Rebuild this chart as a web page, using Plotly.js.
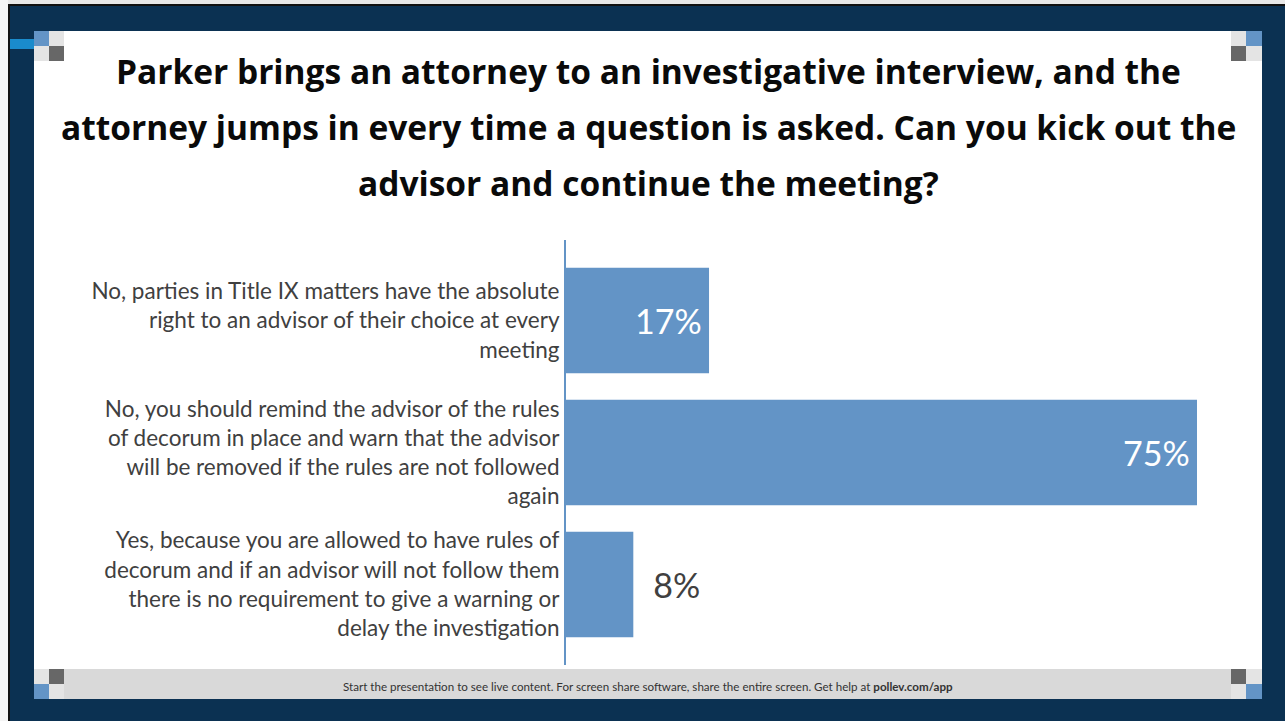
<!DOCTYPE html>
<html>
<head>
<meta charset="utf-8">
<script src="https://cdn.plot.ly/plotly-3.0.1.min.js"></script>
<style>
html,body{margin:0;padding:0;background:#0b3152;overflow:hidden;}
#chart{width:1285px;height:721px;}
</style>
</head>
<body>
<div id="chart"></div>
<script>
// ---- data ----
var categories = [
  "No, parties in Title IX matters have the absolute<br>right to an advisor of their choice at every<br>meeting",
  "No, you should remind the advisor of the rules<br>of decorum in place and warn that the advisor<br>will be removed if the rules are not followed<br>again",
  "Yes, because you are allowed to have rules of<br>decorum and if an advisor will not follow them<br>there is no requirement to give a warning or<br>delay the investigation"
];
var values = [17, 75, 8];
var valueLabels = ["17%", "75%", "8%"];
var titleLines = [
  "Parker brings an attorney to an investigative interview, and the",
  "attorney jumps in every time a question is asked. Can you kick out the",
  "advisor and continue the meeting?"
];
var footerText = "Start the presentation to see live content. For screen share software, share the entire screen. Get help at <b>pollev.com/app</b>";

// ---- geometry ----
var W = 1285, H = 721;
var M = {l: 566, r: 88, t: 240, b: 56};
var PW = W - M.l - M.r, PH = H - M.t - M.b;
function px(x){ return (x - M.l) / PW; }
function py(y){ return (H - M.b - y) / PH; }
function rect(x0, y0, x1, y1, color){
  return {type:'rect', xref:'paper', yref:'paper', x0:px(x0), x1:px(x1), y0:py(y1), y1:py(y0),
          fillcolor:color, line:{width:0}, layer:'below'};
}

var NAVY = '#0b3152', BLUE = '#6394c6', LG = '#e4e4e4', DG = '#676767';
var shapes = [
  rect(0, 0, 8, H, '#f4f4f4'),
  rect(8, 0, W, 4, '#e8e8e8'),
  rect(8, 4, 10, H, '#111111'),
  rect(8, 4, W, 6, '#111111'),
  rect(34, 31, 1262, 669, '#ffffff'),
  rect(34, 669, 1262, 699, '#d9d9d9'),
  rect(10, 39, 34, 49, '#1a8bcc'),
  // top-left
  rect(34, 31, 49, 46, BLUE), rect(49, 31, 64, 46, LG), rect(34, 46, 49, 61, LG), rect(49, 46, 64, 61, DG),
  // top-right
  rect(1231, 31, 1246, 46, LG), rect(1246, 31, 1262, 46, BLUE), rect(1231, 46, 1246, 61, DG), rect(1246, 46, 1262, 61, LG),
  // bottom-left
  rect(34, 669, 49, 684, LG), rect(49, 669, 64, 684, DG), rect(34, 684, 49, 699, BLUE), rect(49, 684, 64, 699, LG),
  // bottom-right
  rect(1231, 669, 1246, 684, DG), rect(1246, 669, 1262, 684, LG), rect(1231, 684, 1246, 699, LG), rect(1246, 684, 1262, 699, BLUE)
];

var annotations = [];
var titleY = [71, 127, 183];
titleLines.forEach(function(t, i){
  annotations.push({xref:'paper', yref:'paper', x:px(648), y:py(titleY[i]), text:'<b>'+t+'</b>',
    showarrow:false, xanchor:'center', yanchor:'middle',
    font:{family:'Open Sans', size:33.5, color:'#0a0a0a'}});
});
annotations.push({xref:'paper', yref:'paper', x:px(648), y:py(686), text:footerText,
  showarrow:false, xanchor:'center', yanchor:'middle',
  font:{family:'Lato', size:11.6, color:'#333333'}});

var trace = {
  type:'bar', orientation:'h',
  y: categories, x: values,
  text: valueLabels,
  texttemplate: ['%{text}\u2009', '%{text}\u2009', '\u2002%{text}'],
  textposition: ['inside', 'inside', 'outside'],
  insidetextanchor: 'end',
  textangle: 0,
  insidetextfont: {family:'Lato', size:34, color:'#ffffff'},
  outsidetextfont: {family:'Lato', size:34, color:'#404040'},
  marker: {color: BLUE, line:{width:0}},
  cliponaxis: false,
  hoverinfo: 'none'
};

var layout = {
  width: W, height: H,
  margin: M,
  paper_bgcolor: NAVY,
  plot_bgcolor: 'rgba(0,0,0,0)',
  showlegend: false,
  bargap: 0.2,
  xaxis: {range:[0, 75], visible:false, showgrid:false, zeroline:false, fixedrange:true},
  yaxis: {type:'category', range:[2.61, -0.61], showline:true, linecolor:BLUE, linewidth:2,
          ticks:'', showgrid:false, zeroline:false, ticklabelstandoff:0,
          tickfont:{family:'Lato', size:22.5, color:'#404040'}, fixedrange:true},
  shapes: shapes,
  annotations: annotations,
  font: {family:'Lato'}
};

Plotly.newPlot('chart', [trace], layout, {displayModeBar:false, staticPlot:true});
</script>
</body>
</html>
